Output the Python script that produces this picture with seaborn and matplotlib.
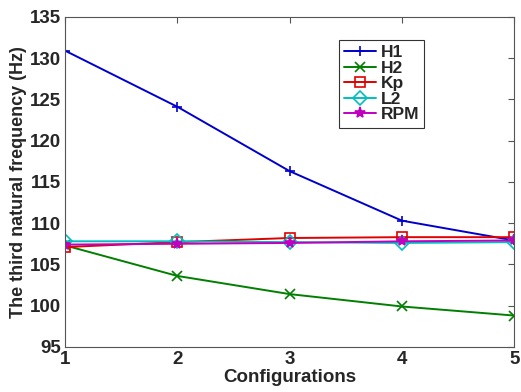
import pandas as pd
import seaborn as sns
from matplotlib import pyplot as plt

configs = [1, 2, 3, 4, 5]
h1 = [130.9, 124.1, 116.3, 110.3, 107.9]
h2 = [107.3, 103.6, 101.4, 99.9, 98.8]
kp = [107.1, 107.7, 108.2, 108.3, 108.3]
l2 = [107.8, 107.8, 107.7, 107.6, 107.7]
rpm = [107.4, 107.5, 107.6, 107.8, 107.9]

series = ['H1', 'H2', 'Kp', 'L2', 'RPM']
colors = ['#0000cc', '#007f00', '#e00000', '#00bfbf', '#bf00bf']
markers = ['+', 'x', 's', 'D', '*']

df = pd.DataFrame({'Configurations': configs * 5,
                   'freq': h1 + h2 + kp + l2 + rpm,
                   'Series': [s for s in series for _ in configs]})

sns.set_style('white')
plt.rcParams['font.family'] = ['Liberation Sans', 'DejaVu Sans']
plt.rcParams['font.weight'] = 'bold'

fig = plt.figure(figsize=(5.21, 3.92), dpi=100)
ax = fig.add_axes([0.125, 0.115, 0.862, 0.842])

for s, c, m in zip(series, colors, markers):
    d = df[df['Series'] == s]
    sns.lineplot(data=d, x='Configurations', y='freq', ax=ax, color=c, marker=m,
                 markersize=7 if m != '*' else 8, markerfacecolor='none' if m in 's D' else c,
                 markeredgecolor=c, markeredgewidth=1.2, linewidth=1.4, label=s)

ax.set_xlim(1, 5)
ax.set_ylim(95, 135)
ax.set_xticks(configs)
ax.set_yticks(range(95, 136, 5))
ax.tick_params(direction='in', top=True, right=True, labelsize=13.5, length=4,
               color='#555555')
ax.tick_params(axis='x', pad=3)
ax.tick_params(axis='y', pad=3)
for sp in ax.spines.values():
    sp.set_color('#555555')
    sp.set_linewidth(0.8)
ax.set_xlabel('Configurations', fontsize=13.5, fontweight='bold', labelpad=1)
ax.set_ylabel('The third natural frequency (Hz)', fontsize=13, fontweight='bold', labelpad=2)

leg = ax.legend(loc='upper left', bbox_to_anchor=(0.61, 0.93), fontsize=12.5, frameon=True,
                fancybox=False, handlelength=1.8, handletextpad=0.3, labelspacing=0.02,
                borderpad=0.3, borderaxespad=0)
leg.get_frame().set_edgecolor('black')
leg.get_frame().set_linewidth(0.8)

plt.savefig('out.png', dpi=100)
